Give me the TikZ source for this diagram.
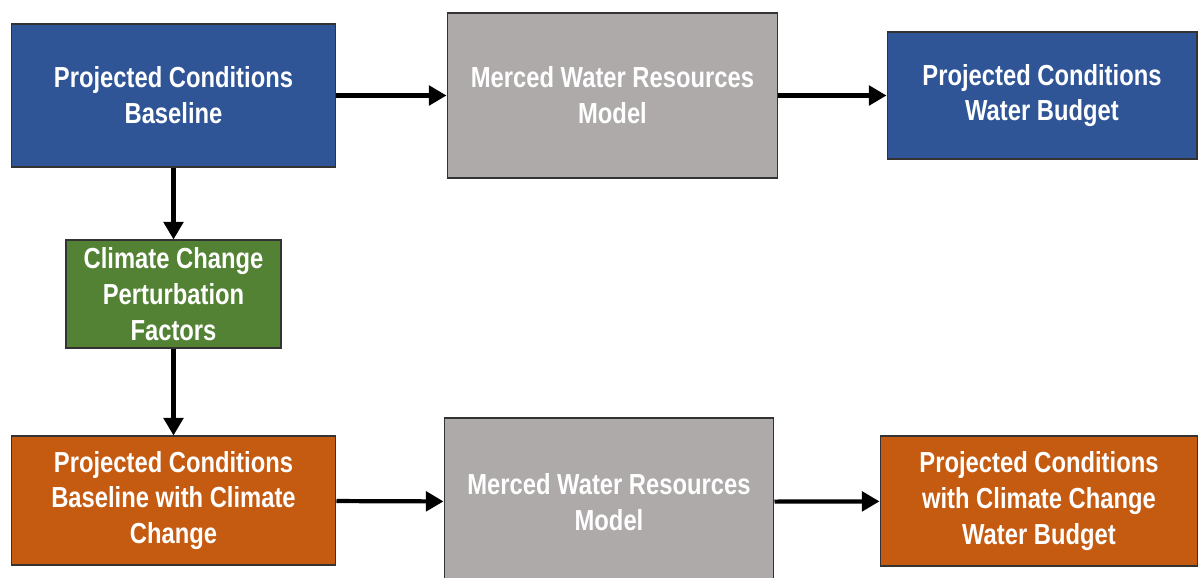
\documentclass[tikz,border=0pt]{standalone}
\usepackage{fontspec}
\setmainfont[FakeStretch=0.82]{Liberation Sans}
\usetikzlibrary{arrows.meta}

\begin{document}
\begin{tikzpicture}[x=0.02cm,y=-0.02cm,
    box/.style={rectangle,draw=black!80,line width=0.6pt,text=white,align=center,
      font=\bfseries\fontsize{16.5pt}{20.4pt}\selectfont,inner sep=2pt},
    blue box/.style={box,fill={rgb,255:red,47;green,85;blue,151}},
    grey box/.style={box,fill={rgb,255:red,174;green,170;blue,170}},
    green box/.style={box,fill={rgb,255:red,84;green,130;blue,53}},
    orange box/.style={box,fill={rgb,255:red,197;green,90;blue,17}},
    arrow/.style={line width=2.4pt,-{Triangle[length=10pt,width=11pt]}}]

\useasboundingbox (0,0) rectangle (1198,578);

\node[blue box,minimum width=6.5cm,minimum height=2.86cm] (base) at (173.5,95.5) {Projected Conditions\\Baseline};
\node[grey box,minimum width=6.62cm,minimum height=3.3cm] (model1) at (612.5,95.5) {Merced Water Resources\\Model};
\node[blue box,minimum width=6.2cm,minimum height=2.54cm] (budget1) at (1042,95.5) {Projected Conditions\\Water Budget};

\node[green box,minimum width=4.3cm,minimum height=2.16cm] (factors) at (173.5,294) {Climate Change\\Perturbation\\Factors};

\node[orange box,minimum width=6.5cm,minimum height=2.58cm] (ccbase) at (173.5,500.5) {Projected Conditions\\Baseline with Climate\\Change};
\node[grey box,minimum width=6.6cm,minimum height=3.36cm] (model2) at (609,502) {Merced Water Resources\\Model};
\node[orange box,minimum width=6.36cm,minimum height=2.6cm] (budget2) at (1039,501) {Projected Conditions\\with Climate Change\\Water Budget};

\draw[arrow] (base) -- (model1);
\draw[arrow] (model1) -- (budget1);
\draw[arrow] (base) -- (factors);
\draw[arrow] (factors) -- (ccbase);
\draw[arrow] (ccbase) -- (model2);
\draw[arrow] (model2) -- (budget2);
\end{tikzpicture}
\end{document}
